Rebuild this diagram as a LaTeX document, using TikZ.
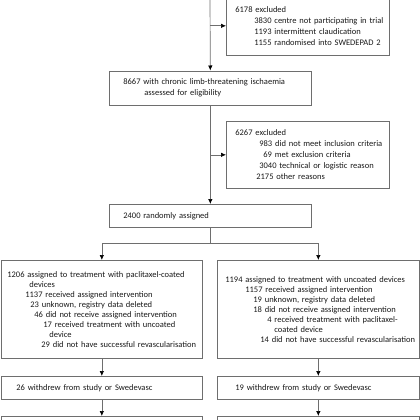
\documentclass[tikz,border=0pt]{standalone}
\usepackage{fontspec}
\setmainfont{Carlito}
\usetikzlibrary{arrows.meta, positioning, calc}
\definecolor{linegray}{RGB}{110,110,110}
\definecolor{textgray}{RGB}{25,25,25}
% one line of a box: indent (pt) and unbreakable text
\newcommand{\rowline}[2]{\hspace*{#1pt}\mbox{#2}}

\begin{document}
\begin{tikzpicture}[
  x=1pt, y=-1pt,
  box/.style={rectangle, draw=linegray, line width=0.7pt, anchor=north west,
              inner xsep=0pt, inner ysep=0pt, align=left, text=textgray,
              font=\fontsize{8.5}{11}\selectfont},
  armbox/.style={box, font=\fontsize{8.5}{10}\selectfont},
  arr/.style={-{Latex[length=5pt,width=4.5pt,color=black]}, draw=linegray, line width=0.7pt},
]
  \useasboundingbox (0,0) rectangle (420,420);
  \clip (0,0) rectangle (420,420);

  \coordinate (src) at (210,-10);

  \node[box, text width=163pt, minimum height=59pt] (excl1) at (226,-4)
    {\rowline{9}{6178 excluded}\\
     \rowline{28}{3830 centre not participating in trial}\\
     \rowline{28}{1193 intermittent claudication}\\
     \rowline{28}{1155 randomised into SWEDEPAD 2}};
  \node[box, text width=202pt, minimum height=34pt] (elig) at (109,70.5)
    {\rowline{14}{8667 with chronic limb-threatening ischaemia}\\
     \rowline{35}{assessed for eligibility}};
  \node[box, text width=163pt, minimum height=67pt] (excl2) at (226,121)
    {\rowline{9}{6267 excluded}\\
     \rowline{33}{983 did not meet inclusion criteria}\\
     \rowline{37}{69 met exclusion criteria}\\
     \rowline{33}{3040 technical or logistic reason}\\
     \rowline{30}{2175 other reasons}};
  \node[box, text width=202pt, minimum height=23pt] (rand) at (109,204)
    {\rowline{14}{2400 randomly assigned}};

  \node[armbox, text width=201pt, minimum height=98pt] (armA) at (1,260)
    {\rowline{6}{1206 assigned to treatment with paclitaxel-coated}\\
     \rowline{28}{devices}\\
     \rowline{24}{1137 received assigned intervention}\\
     \rowline{29}{23 unknown, registry data deleted}\\
     \rowline{33}{46 did not receive assigned intervention}\\
     \rowline{42}{17 received treatment with uncoated}\\
     \rowline{48}{device}\\
     \rowline{40}{29 did not have successful revascularisation}};
  \node[armbox, text width=202pt, minimum height=98pt] (armB) at (217,260)
    {\rowline{8}{1194 assigned to treatment with uncoated devices}\\
     \rowline{28}{1157 received assigned intervention}\\
     \rowline{36}{19 unknown, registry data deleted}\\
     \rowline{36}{18 did not receive assigned intervention}\\
     \rowline{50}{4 received treatment with paclitaxel-}\\
     \rowline{57}{coated device}\\
     \rowline{43}{14 did not have successful revascularisation}};

  \node[box, text width=201pt, minimum height=23pt] (wdA) at (1,376)
    {\rowline{15}{26 withdrew from study or Swedevasc}};
  \node[box, text width=202pt, minimum height=23pt] (wdB) at (217,376)
    {\rowline{18}{19 withdrew from study or Swedevasc}};

  \node[box, text width=201pt, minimum height=30pt] (fuA) at (1,416) {};
  \node[box, text width=202pt, minimum height=30pt] (fuB) at (217,416) {};

  \draw[arr] (src) -- (elig);
  \draw[arr] (src |- excl1.west) -- (excl1.west);
  \draw[arr] (elig) -- (rand);
  \draw[arr] (elig |- excl2.west) -- (excl2.west);
  \draw[arr] (rand.south) -- ++(0,16) -| (armA.north);
  \draw[arr] (rand.south) -- ++(0,16) -| (armB.north);
  \draw[arr] (armA) -- (wdA);
  \draw[arr] (armB) -- (wdB);
  \draw[arr] (wdA) -- (fuA);
  \draw[arr] (wdB) -- (fuB);
\end{tikzpicture}
\end{document}
